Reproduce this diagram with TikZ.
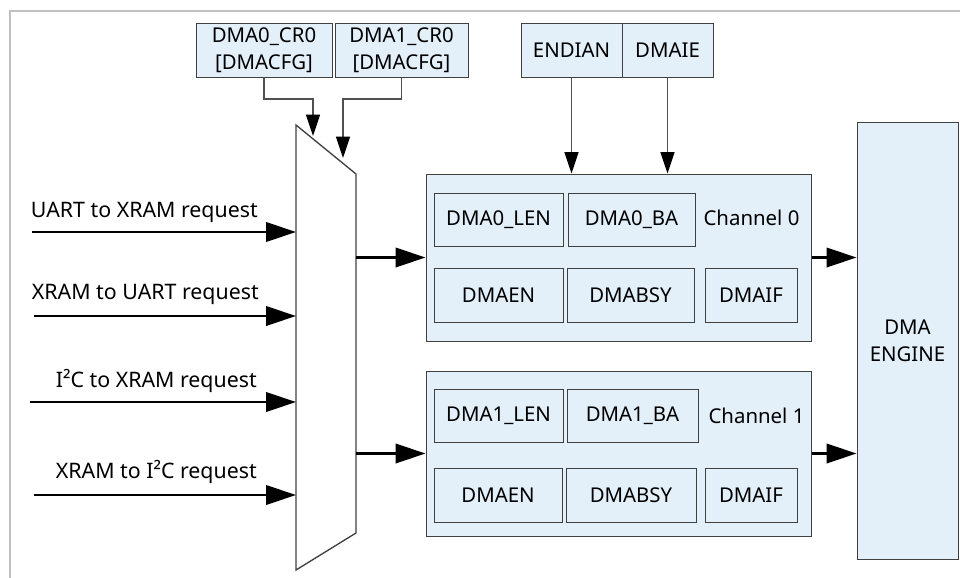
\documentclass[tikz,border=0pt]{standalone}
\usepackage{fontspec}
\setmainfont{Noto Sans}
\usetikzlibrary{arrows.meta}
\definecolor{boxfill}{HTML}{E3EFF9}
\definecolor{boxline}{HTML}{404040}
\definecolor{frameline}{HTML}{C0C0C0}
\definecolor{wireline}{HTML}{505050}
\begin{document}
\begin{tikzpicture}[x=0.75pt,y=-0.75pt,
  rb/.style n args={4}{minimum width={(#3-#1)*0.75pt}, minimum height={(#4-#2)*0.75pt},
    at={({(#1+#3)/2},{(#2+#4)/2})}},
  regbox/.style={draw=boxline, line width=0.75pt, fill=boxfill, inner sep=0pt,
    font=\fontsize{15.3}{20}\selectfont, align=center},
  bigarrow/.style={line width=2.2pt, -{Triangle[length=22.5pt,width=14.5pt]}},
  thinarrow/.style={draw=wireline, line width=1pt, -{Triangle[length=16pt,width=10.5pt,color=black]}},
  lbl/.style={font=\fontsize{16}{19}\selectfont, anchor=base east, inner sep=0pt},
  chlbl/.style={font=\fontsize{15.3}{17}\selectfont, anchor=base, inner sep=0pt}]
\useasboundingbox (0,0) rectangle (960,578);
% frame
\draw[frameline, line width=1.5pt] (10,578) -- (10,11) -- (960,11);

% top config boxes
\node[regbox, rb={196}{23}{332}{77}] (cr0) {DMA0\_CR0\\{[DMACFG]}};
\node[regbox, rb={335}{23}{468}{77}] (cr1) {DMA1\_CR0\\{[DMACFG]}};
\node[regbox, rb={521}{23}{622}{77}] (endian) {ENDIAN};
\node[regbox, rb={622}{23}{713}{77}] (dmaie) {DMAIE};

% channel 0
\node[regbox, rb={426}{174}{811}{341}] (ch0) {};
\node[regbox, rb={434}{193}{563}{246}] (len0) {DMA0\_LEN};
\node[regbox, rb={568}{193}{695}{246}] (ba0) {DMA0\_BA};
\node[regbox, rb={434}{268}{563}{322}] (en0) {DMAEN};
\node[regbox, rb={567}{268}{694}{322}] (bsy0) {DMABSY};
\node[regbox, rb={705}{268}{797}{322}] (if0) {DMAIF};
\node[chlbl] (c0lbl) at (751.5,225) {Channel 0};

% channel 1
\node[regbox, rb={426}{371}{811}{536}] (ch1) {};
\node[regbox, rb={434}{389}{563}{442}] (len1) {DMA1\_LEN};
\node[regbox, rb={567}{389}{698}{442}] (ba1) {DMA1\_BA};
\node[regbox, rb={434}{468}{562}{522}] (en1) {DMAEN};
\node[regbox, rb={566}{468}{696}{522}] (bsy1) {DMABSY};
\node[regbox, rb={705}{468}{797}{522}] (if1) {DMAIF};
\node[chlbl] (c1lbl) at (756.5,423) {Channel 1};

% DMA engine
\node[regbox, rb={857}{122}{958}{559}] (engine) {DMA\\ENGINE};

% multiplexer
\coordinate (mA) at (296,125);
\coordinate (mB) at (356,174);
\coordinate (mC) at (356,533);
\coordinate (mD) at (296,570);
\draw[draw=boxline, line width=1pt, fill=white] (mA) -- (mB) -- (mC) -- (mD) -- cycle;

% select connectors
\coordinate (sel0) at (313,136);
\coordinate (sel1) at (343,158);
\draw[thinarrow] (cr0.south) -- (cr0.south |- 0,99) -| (sel0);
\draw[thinarrow] (cr1.south) -- (cr1.south |- 0,99) -| (sel1);

% endian / dmaie arrows
\draw[thinarrow] (endian.south) -- (endian.south |- ch0.north);
\draw[thinarrow] (dmaie.south) -- (dmaie.south |- ch0.north);

% request inputs
\coordinate (s1) at (32,232);
\coordinate (s2) at (34,316);
\coordinate (s3) at (30,402);
\coordinate (s4) at (34,495);
\draw[bigarrow] (s1) -- (s1 -| mA);
\draw[bigarrow] (s2) -- (s2 -| mA);
\draw[bigarrow] (s3) -- (s3 -| mA);
\draw[bigarrow] (s4) -- (s4 -| mA);
\node[lbl] (l1) at (258,217) {UART to XRAM request};
\node[lbl] (l2) at (259,299) {XRAM to UART request};
\node[lbl] (l3) at (257,387) {I²C to XRAM request};
\node[lbl] (l4) at (257,478) {XRAM to I²C request};

% mux to channels
\draw[bigarrow] (ch0.west -| mB) -- (ch0.west);
\draw[bigarrow] (ch1.west -| mB) -- (ch1.west);

% channels to engine
\draw[bigarrow] (ch0.east) -- (ch0.east -| engine.west);
\draw[bigarrow] (ch1.east) -- (ch1.east -| engine.west);
\end{tikzpicture}
\end{document}
